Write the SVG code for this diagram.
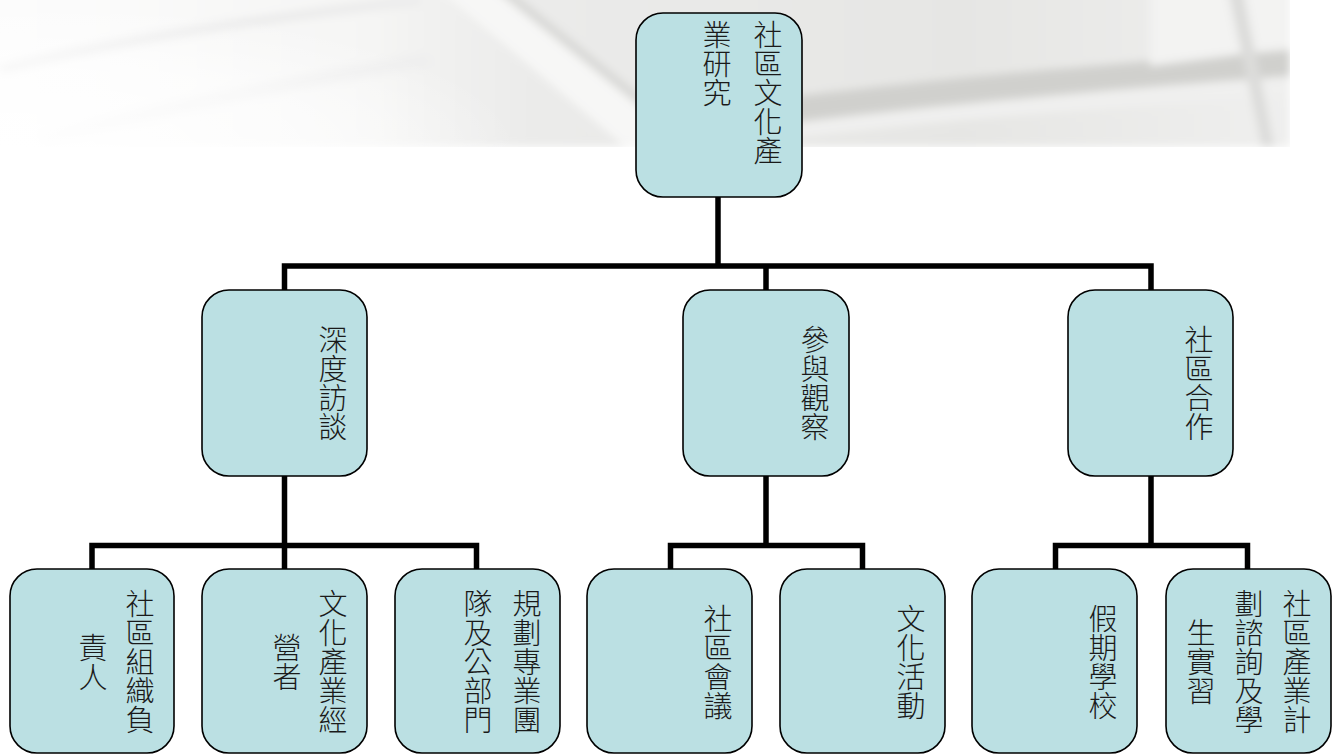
<svg xmlns="http://www.w3.org/2000/svg" width="1338" height="754" viewBox="0 0 1338 754">
  <style>
    .box { fill: #BBE0E3; stroke: #000; stroke-width: 1.6; }
    .link { fill: none; stroke: #000; stroke-width: 5.5; stroke-linejoin: miter; stroke-linecap: butt; }
    .lbl { font-family: "Noto Sans CJK TC", "Noto Sans CJK JP", sans-serif; font-size: 29px; font-weight: 300; fill: #1a1a1a; writing-mode: vertical-rl; text-anchor: middle; }
    .lbl-top { text-anchor: start; }
  </style>
  <defs>
    <filter id="soft" x="-5%" y="-20%" width="110%" height="140%">
      <feGaussianBlur stdDeviation="4"/>
    </filter>
    <linearGradient id="paper" x1="0" y1="0" x2="1" y2="0">
      <stop offset="0" stop-color="#fdfdfd"/>
      <stop offset="0.3" stop-color="#f5f5f4"/>
      <stop offset="0.42" stop-color="#ebebea"/>
      <stop offset="0.75" stop-color="#e6e6e4"/>
      <stop offset="1" stop-color="#efefee"/>
    </linearGradient>
    <radialGradient id="whiteCorner" cx="0" cy="1" r="1">
      <stop offset="0" stop-color="#fff" stop-opacity="1"/>
      <stop offset="0.6" stop-color="#fff" stop-opacity="0.6"/>
      <stop offset="1" stop-color="#fff" stop-opacity="0"/>
    </radialGradient>
  </defs>

  <!-- faded scroll backdrop along the top edge -->
  <g id="backdrop">
    <g filter="url(#soft)">
      <rect x="-20" y="-20" width="1310" height="167" fill="url(#paper)"/>
      <!-- faint streaks on the left -->
      <path d="M0,70 C120,40 250,20 420,0" stroke="#ececec" stroke-width="10" fill="none"/>
      <path d="M40,140 C160,110 300,80 430,60" stroke="#efefef" stroke-width="14" fill="none"/>
      <!-- diagonal rod -->
      <polygon points="440,-10 495,-10 690,147 625,147" fill="#f7f7f6"/>
      <polygon points="495,-10 510,-10 705,147 690,147" fill="#d8d8d6"/>
      <!-- rolled edge of the scroll -->
      <path d="M650,115 C820,92 1010,70 1290,50 L1290,76 C1010,95 820,118 670,138 Z" fill="#d0d0cd"/>
      <path d="M670,138 C820,120 1010,98 1290,80 L1290,96 C1010,112 830,132 720,147 Z" fill="#f0f0ef"/>
      <!-- right hand flap -->
      <polygon points="1150,-10 1290,-10 1290,48 1150,66" fill="#f3f3f2"/>
      <path d="M1228,-10 C1238,40 1248,80 1262,147 L1274,147 C1262,80 1252,40 1243,-10 Z" fill="#dcdcda"/>
    </g>
    <!-- the left end melts into the page -->
    <rect x="0" y="0" width="520" height="150" fill="url(#whiteCorner)"/>
    <!-- crisp right and bottom borders of the picture -->
    <rect x="1290" y="0" width="48" height="160" fill="#fff"/>
    <rect x="0" y="147" width="1338" height="20" fill="#fff"/>
  </g>

  <!-- connectors -->
  <g id="connectors">
    <path class="link" d="M718,197 V266"/>
    <path class="link" d="M284.5,290 V266 H1151 V290 M766,266 V290"/>
    <path class="link" d="M284.5,476 V545.5 M92,569 V545.5 H476.5 V569 M284.5,545.5 V569"/>
    <path class="link" d="M766,476 V545.5 M670.5,569 V545.5 H862.5 V569"/>
    <path class="link" d="M1151,476 V545.5 M1055.5,569 V545.5 H1247.5 V569"/>
  </g>

  <!-- root -->
  <g id="node-root">
    <rect class="box" x="636" y="13" width="166" height="184" rx="27"/>
    <text class="lbl lbl-top" x="768" y="20">社區文化產</text>
    <text class="lbl lbl-top" x="717" y="20">業研究</text>
  </g>

  <!-- second level -->
  <g id="node-interview">
    <rect class="box" x="202" y="290" width="165" height="186" rx="27"/>
    <text class="lbl" x="333" y="383">深度訪談</text>
  </g>
  <g id="node-observe">
    <rect class="box" x="683" y="290" width="166" height="186" rx="27"/>
    <text class="lbl" x="815" y="383">參與觀察</text>
  </g>
  <g id="node-cooperate">
    <rect class="box" x="1068" y="290" width="165" height="186" rx="27"/>
    <text class="lbl" x="1199" y="383">社區合作</text>
  </g>

  <!-- third level -->
  <g id="node-leader">
    <rect class="box" x="10" y="569" width="164" height="184" rx="27"/>
    <text class="lbl" x="140" y="662">社區組織負</text>
    <text class="lbl" x="93" y="662">責人</text>
  </g>
  <g id="node-operator">
    <rect class="box" x="202" y="569" width="165" height="184" rx="27"/>
    <text class="lbl" x="333" y="662">文化產業經</text>
    <text class="lbl" x="287" y="662">營者</text>
  </g>
  <g id="node-planning">
    <rect class="box" x="395" y="569" width="165" height="184" rx="27"/>
    <text class="lbl" x="527" y="662">規劃專業團</text>
    <text class="lbl" x="478" y="662">隊及公部門</text>
  </g>
  <g id="node-meeting">
    <rect class="box" x="587" y="569" width="165" height="184" rx="27"/>
    <text class="lbl" x="718" y="662">社區會議</text>
  </g>
  <g id="node-activity">
    <rect class="box" x="780" y="569" width="165" height="184" rx="27"/>
    <text class="lbl" x="911" y="662">文化活動</text>
  </g>
  <g id="node-school">
    <rect class="box" x="972" y="569" width="165" height="184" rx="27"/>
    <text class="lbl" x="1103" y="662">假期學校</text>
  </g>
  <g id="node-intern">
    <rect class="box" x="1166" y="569" width="165" height="184" rx="27"/>
    <text class="lbl" x="1297" y="662">社區產業計</text>
    <text class="lbl" x="1249" y="662">劃諮詢及學</text>
    <text class="lbl" x="1201" y="662">生實習</text>
  </g>
</svg>
